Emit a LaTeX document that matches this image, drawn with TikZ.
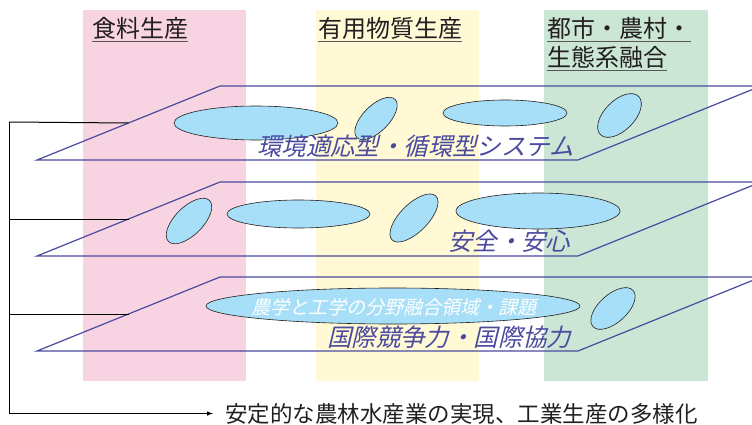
\documentclass[tikz,border=0pt]{standalone}
\usepackage{fontspec}
\newfontfamily\jp{Noto Sans CJK JP}
\newfontfamily\jpit[FakeSlant=0.24]{Noto Sans CJK JP}
\usetikzlibrary{shapes.geometric,arrows}
\definecolor{colpink}{RGB}{248,212,227}
\definecolor{colyellow}{RGB}{255,249,214}
\definecolor{colgreen}{RGB}{204,230,214}
\definecolor{blobblue}{RGB}{166,223,247}
\definecolor{planeblue}{RGB}{74,74,158}
\definecolor{inkgray}{RGB}{35,31,32}

\begin{document}
\begin{tikzpicture}
    [x=1pt,y=-1pt,
     every node/.style={inner sep=0pt},
     head/.style={anchor=base west, text=inkgray, font=\jp\fontsize{24}{28}\selectfont},
     uline/.style={draw=inkgray!75, line width=0.9pt},
     plane/.style={draw=planeblue, line width=1.2pt},
     blob/.style={draw=inkgray, line width=0.6pt, fill=blobblue, ellipse},
     layer/.style={anchor=base west, text=planeblue, font=\jpit\fontsize{24.4}{28}\selectfont},
     link/.style={draw=black, line width=1pt}]
  \useasboundingbox (0,0) rectangle (752,425);

  \fill[colpink] (83,10) rectangle (246,381);
  \fill[colyellow] (316,10) rectangle (479,381);
  \fill[colgreen] (544,10) rectangle (708,381);

  \node[head] (food) at (92,38) {食料生産};
  \node[head] (matter) at (318,38) {有用物質生産};
  \node[head] (city) at (547,38) {都市・農村・};
  \node[head] (eco) at (547,67) {生態系融合};
  \foreach \t in {food, matter, city, eco}
    \draw[uline] ([yshift=-3.7pt]\t.base west) -- ([yshift=-3.7pt]\t.base east);

  \foreach \n/\yt in {1/86, 2/182, 3/277} {
    \draw[plane] (37,\yt+74) -- (578,\yt+74) -- (761,\yt) -- (220,\yt) -- cycle;
    \coordinate (mid\n) at (128.5,\yt+37);
  }

  \foreach \nm/\x/\y/\w/\h/\r in {b1/256/123/164/34/0, b2/376/118.5/54/26/45, b3/505/113/124/26/0,
      b4/619.5/115.5/54/30/45, b5/189/221/58/28/45, b6/298.5/214/143/28/0, b7/414/218/62/28/45,
      b8/538/211/164/36/0, b9/393/306/374/36/0, b10/613/308.5/54/28/42}
    \node[blob, minimum width=\w, minimum height=\h, rotate=\r] (\nm) at (\x,\y) {};
  \node[text=white, font=\jpit\fontsize{19}{22}\selectfont] (joint) at (394,307) {農学と工学の分野融合領域・課題};

  \node[layer] (env) at (257,155) {環境適応型・循環型システム};
  \node[layer] (safe) at (448,250) {安全・安心};
  \node[layer] (intl) at (327,346) {国際競争力・国際協力};

  \coordinate (spine) at (9,122);
  \node[anchor=base west, text=inkgray, font=\jp\fontsize{22.5}{26}\selectfont] (goal) at (225,422) {安定的な農林水産業の実現、工業生産の多様化};
  \draw[link] (mid1) -- (spine);
  \draw[link,-latex] (spine) |- ([xshift=-12pt]goal.west);
  \foreach \n in {2,3}
    \draw[link] (mid\n) -- (mid\n -| spine);
\end{tikzpicture}
\end{document}
